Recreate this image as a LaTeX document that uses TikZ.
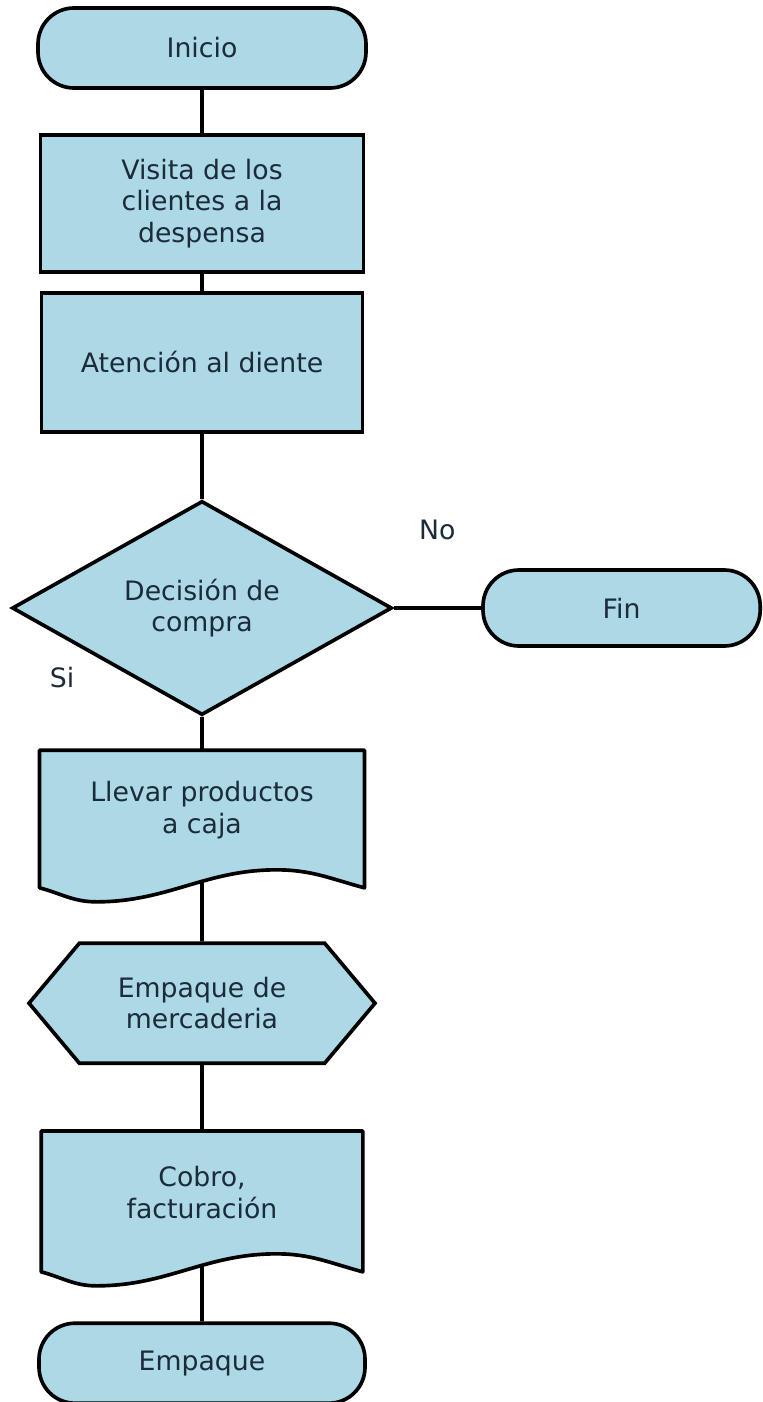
\documentclass[tikz,border=0pt]{standalone}
\usepackage{fontspec}
\setmainfont{DejaVu Sans}
\usepackage{tikz}
\usetikzlibrary{backgrounds,shapes.geometric,shapes.symbols}

\definecolor{boxblue}{HTML}{ADD8E6}
\definecolor{inkdark}{HTML}{1C2B3A}

\begin{document}
\begin{tikzpicture}[
  base/.style={draw,line width=2.6pt,fill=boxblue,text=inkdark,align=center,
    inner sep=0pt,font=\fontsize{19}{22.5}\selectfont},
  term/.style={base,rectangle,rounded corners=0.9cm,minimum height=2cm},
  proc/.style={base,rectangle},
  decide/.style={base,diamond,minimum width=9.5cm,minimum height=4.95cm},
  prep/.style={base,signal,signal to=west and east,signal pointer angle=100,
    minimum width=8.65cm,minimum height=3cm},
  docbox/.style={base,draw=none,fill=none,rectangle},
  wire/.style={line width=2.6pt},
  lbl/.style={text=inkdark,font=\fontsize{19}{22.5}\selectfont}
]
  \useasboundingbox (0,0) rectangle (19.05,-35.05);

  \node[term,minimum width=8.2cm]  (inicio)  at (5.05,-1.2)   {Inicio};
  \node[proc,minimum width=8.08cm,minimum height=3.43cm] (visita)
    at (5.05,-5.09) {Visita de los\\clientes a la\\despensa};
  \node[proc,minimum width=8.03cm,minimum height=3.48cm] (atencion)
    at (5.05,-9.06) {Atención al diente};
  \node[decide] (decision) at (5.05,-15.2) {Decisión de\\compra};
  \node[term,minimum width=6.93cm,minimum height=1.9cm] (fin)
    at (15.54,-15.2) {Fin};
  \node[lbl] (no) at (10.93,-13.25) {No};
  \node[lbl] (si) at (1.55,-16.93)  {Si};

  % documentos con borde ondulado
  \node[docbox,minimum width=8.03cm,minimum height=2.9cm] (llevar)
    at (5.05,-20.25) {Llevar productos\\a caja};
  \node[prep] (empaq) at (5.05,-25.08) {Empaque de\\mercaderia};
  \node[docbox,minimum width=7.95cm,minimum height=2.98cm] (cobro)
    at (5.05,-29.81) {Cobro,\\facturación};
  \node[term,minimum width=8.15cm] (empaque) at (5.05,-34.08) {Empaque};

  \begin{scope}[on background layer]
    \draw[wire] (inicio) -- (visita) -- (atencion) -- (decision) -- (llevar)
      -- (empaq) -- (cobro) -- (empaque);
    \draw[wire] (decision) -- (fin);
    \foreach \d in {llevar,cobro}{
      \draw[line width=2.6pt,fill=boxblue,line join=round]
        (\d.north west) -- (\d.north east) -- ([yshift=-0.45cm]\d.south east)
        to[out=165,in=0] ([xshift=1.86cm]\d.south)
        to[out=180,in=0] ([xshift=-2.64cm,yshift=-0.8cm]\d.south)
        to[out=180,in=-15] ([yshift=-0.45cm]\d.south west) -- cycle;
    }
  \end{scope}
\end{tikzpicture}
\end{document}
